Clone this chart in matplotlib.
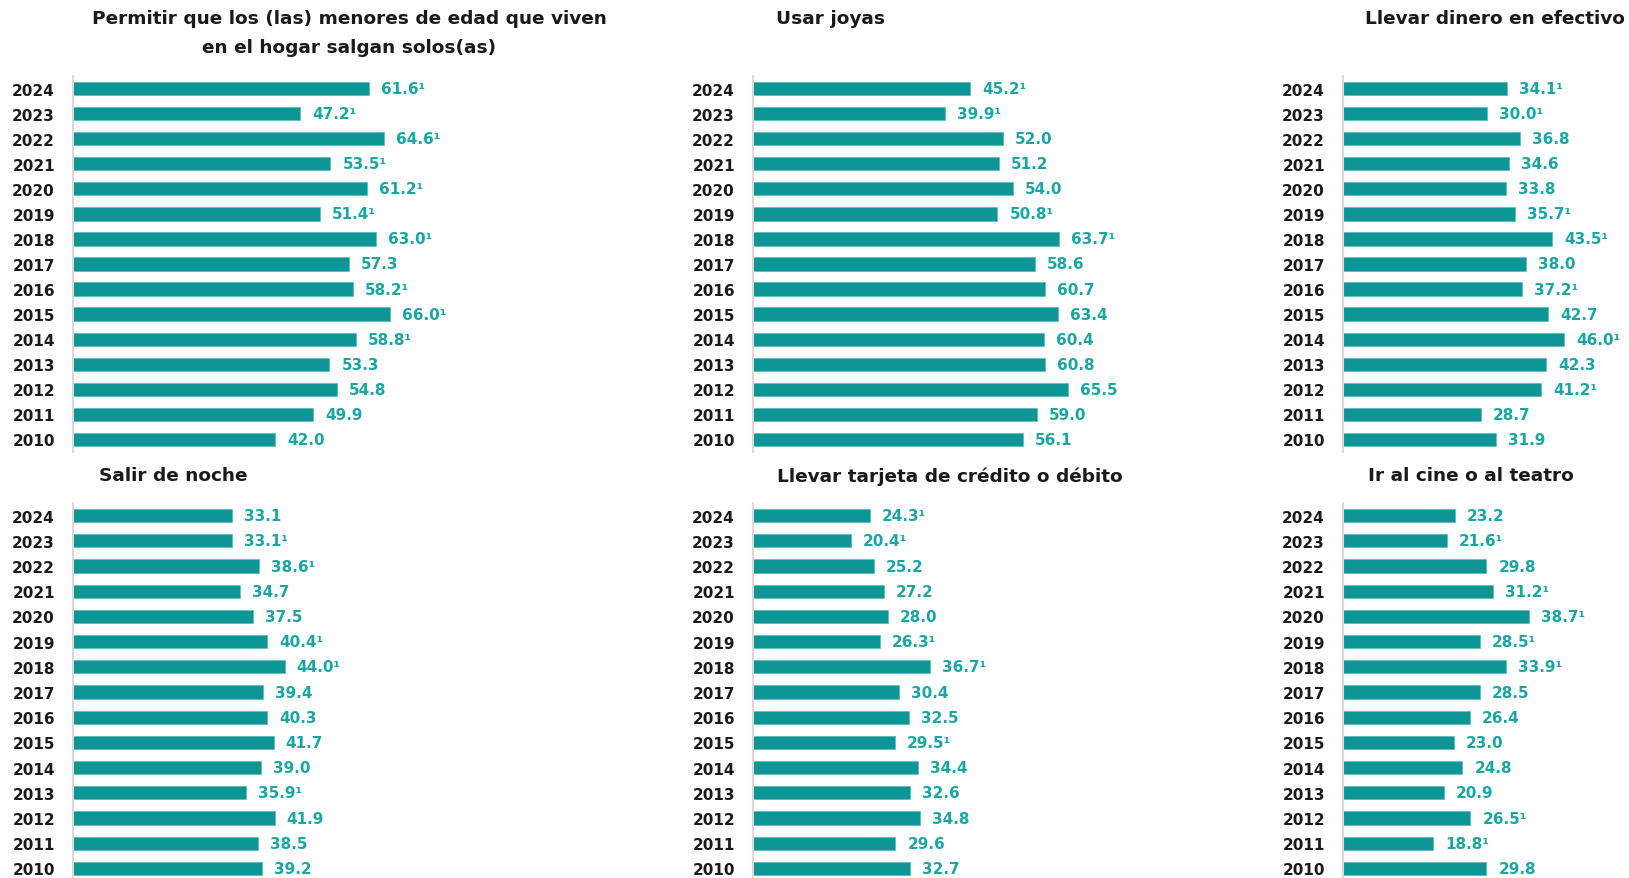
import matplotlib.pyplot as plt

# data (years from 2024 down to 2010)
years = [str(y) for y in range(2024, 2009, -1)]

titles = [
    "Permitir que los (las) menores de edad que viven\nen el hogar salgan solos(as)",
    "Usar joyas",
    "Llevar dinero en efectivo",
    "Salir de noche",
    "Llevar tarjeta de crédito o débito",
    "Ir al cine o al teatro",
]

menores = [61.6, 47.2, 64.6, 53.5, 61.2, 51.4, 63.0, 57.3, 58.2, 66.0, 58.8, 53.3, 54.8, 49.9, 42.0]
menores_nota = [1, 1, 1, 1, 1, 1, 1, 0, 1, 1, 1, 0, 0, 0, 0]

joyas = [45.2, 39.9, 52.0, 51.2, 54.0, 50.8, 63.7, 58.6, 60.7, 63.4, 60.4, 60.8, 65.5, 59.0, 56.1]
joyas_nota = [1, 1, 0, 0, 0, 1, 1, 0, 0, 0, 0, 0, 0, 0, 0]

efectivo = [34.1, 30.0, 36.8, 34.6, 33.8, 35.7, 43.5, 38.0, 37.2, 42.7, 46.0, 42.3, 41.2, 28.7, 31.9]
efectivo_nota = [1, 1, 0, 0, 0, 1, 1, 0, 1, 0, 1, 0, 1, 0, 0]

noche = [33.1, 33.1, 38.6, 34.7, 37.5, 40.4, 44.0, 39.4, 40.3, 41.7, 39.0, 35.9, 41.9, 38.5, 39.2]
noche_nota = [0, 1, 1, 0, 0, 1, 1, 0, 0, 0, 0, 1, 0, 0, 0]

tarjeta = [24.3, 20.4, 25.2, 27.2, 28.0, 26.3, 36.7, 30.4, 32.5, 29.5, 34.4, 32.6, 34.8, 29.6, 32.7]
tarjeta_nota = [1, 1, 0, 0, 0, 1, 1, 0, 0, 1, 0, 0, 0, 0, 0]

cine = [23.2, 21.6, 29.8, 31.2, 38.7, 28.5, 33.9, 28.5, 26.4, 23.0, 24.8, 20.9, 26.5, 18.8, 29.8]
cine_nota = [0, 1, 0, 1, 1, 1, 1, 0, 0, 0, 0, 0, 1, 1, 0]

series = [(menores, menores_nota), (joyas, joyas_nota), (efectivo, efectivo_nota),
          (noche, noche_nota), (tarjeta, tarjeta_nota), (cine, cine_nota)]

W, H = 1629, 879
bar_color = "#0e9696"
label_color = "#1ba6a6"
px_per_unit = 4.81

fig = plt.figure(figsize=(W / 100, H / 100), dpi=100)

# layout in pixels
col_left = [73, 753, 1343]
col_max = [75, 75, 54]
row_top = [77, 504]
row_h = [376, 378]
title_pos = [(349, 33.5), (831, 18.5), (1495, 18.5),
             (173, 476.5), (950, 476.5), (1471, 476.5)]

for i, (vals, notas) in enumerate(series):
    r, c = divmod(i, 3)
    left = col_left[c] / W
    width = col_max[c] * px_per_unit / W
    bottom = 1 - (row_top[r] + row_h[r]) / H
    ax = fig.add_axes([left, bottom, width, row_h[r] / H])

    ypos = range(len(years))
    ax.barh(ypos, vals, height=0.53, color=bar_color, edgecolor="#5fbcbc", linewidth=0.6)
    ax.set_xlim(0, col_max[c])
    ax.set_ylim(len(years) - 0.5, -0.5)
    ax.set_yticks(list(ypos))
    ax.set_yticklabels(years, fontsize=11, fontweight="bold", color="#1a1a1a")
    ax.tick_params(axis="y", length=0, pad=13)
    ax.set_xticks([])
    for s in ["top", "right", "bottom"]:
        ax.spines[s].set_visible(False)
    ax.spines["left"].set_color("#d9d9d9")
    ax.spines["left"].set_linewidth(1.5)

    for y, v, n in zip(ypos, vals, notas):
        txt = f"{v:.1f}" + ("¹" if n else "")
        ax.annotate(txt, (v, y), xytext=(12, 0), textcoords="offset pixels",
                    ha="left", va="center", fontsize=11, fontweight="bold",
                    color=label_color)

    tx, ty = title_pos[i]
    fig.text(tx / W, 1 - ty / H, titles[i], ha="center", va="center",
             fontsize=13.3, fontweight="bold", color="#1a1a1a", linespacing=1.85)

plt.savefig("out.png", dpi=100)
